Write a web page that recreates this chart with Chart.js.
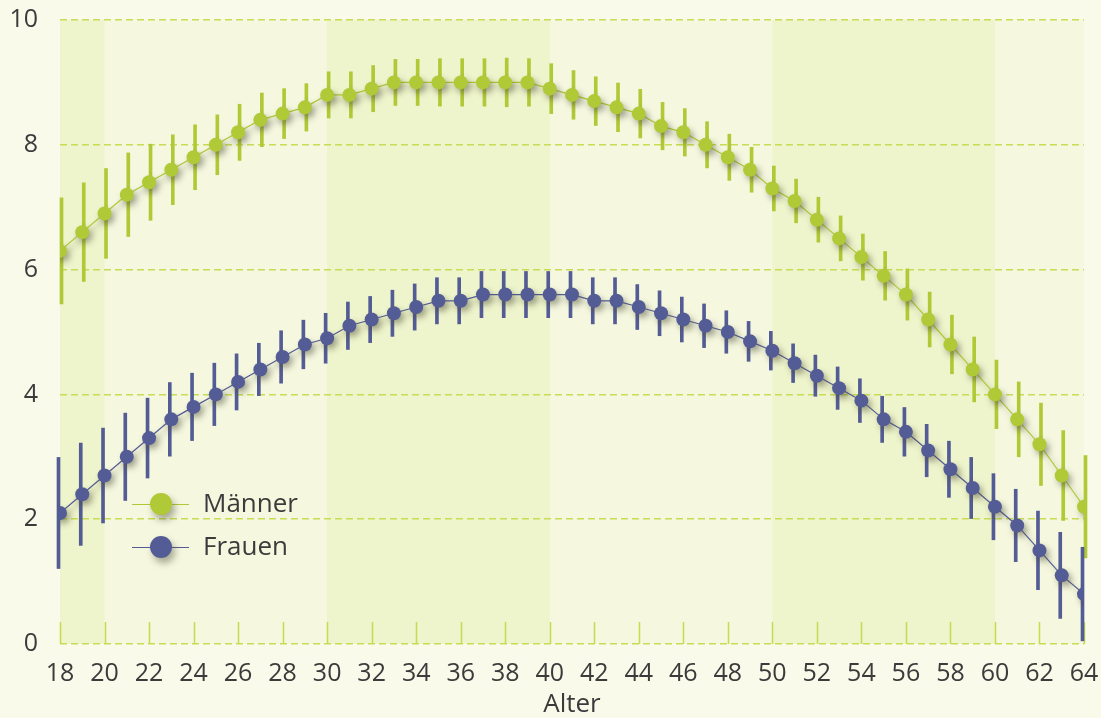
<!DOCTYPE html>
<html>
<head>
<meta charset="utf-8">
<script src="https://cdn.jsdelivr.net/npm/chart.js@4.4.1/dist/chart.umd.min.js"></script>
<style>
  body { margin: 0; background: #f9faea; }
  #wrap { width: 1101px; height: 718px; }
</style>
</head>
<body>
<div id="wrap"><canvas id="alterChart" width="1101" height="718"></canvas></div>
<script>
// Alter (Jahre)
var ages = [18, 19, 20, 21, 22, 23, 24, 25, 26, 27, 28, 29, 30, 31, 32, 33, 34, 35, 36, 37, 38, 39, 40,
            41, 42, 43, 44, 45, 46, 47, 48, 49, 50, 51, 52, 53, 54, 55, 56, 57, 58, 59, 60, 61, 62, 63, 64];

var maenner = [6.3, 6.6, 6.9, 7.2, 7.4, 7.6, 7.8, 8.0, 8.2, 8.4, 8.5, 8.6, 8.8, 8.8, 8.9, 9.0, 9.0, 9.0, 9.0, 9.0, 9.0, 9.0, 8.9,
               8.8, 8.7, 8.6, 8.5, 8.3, 8.2, 8.0, 7.8, 7.6, 7.3, 7.1, 6.8, 6.5, 6.2, 5.9, 5.6, 5.2, 4.8, 4.4, 4.0, 3.6, 3.2, 2.7, 2.2];
var maennerErr = [0.85, 0.79, 0.72, 0.67, 0.61, 0.56, 0.52, 0.48, 0.45, 0.43, 0.40, 0.38, 0.37, 0.37, 0.37, 0.37, 0.37, 0.38, 0.38, 0.38, 0.39, 0.38, 0.40,
                  0.39, 0.39, 0.39, 0.39, 0.38, 0.38, 0.37, 0.37, 0.36, 0.36, 0.35, 0.36, 0.36, 0.37, 0.39, 0.41, 0.44, 0.47, 0.52, 0.55, 0.60, 0.66, 0.72, 0.82];

var frauen = [2.1, 2.4, 2.7, 3.0, 3.3, 3.6, 3.8, 4.0, 4.2, 4.4, 4.6, 4.8, 4.9, 5.1, 5.2, 5.3, 5.4, 5.5, 5.5, 5.6, 5.6, 5.6, 5.6,
              5.6, 5.5, 5.5, 5.4, 5.3, 5.2, 5.1, 5.0, 4.85, 4.7, 4.5, 4.3, 4.1, 3.9, 3.6, 3.4, 3.1, 2.8, 2.5, 2.2, 1.9, 1.5, 1.1, 0.8];
var frauenErr = [0.89, 0.82, 0.76, 0.70, 0.64, 0.59, 0.54, 0.50, 0.45, 0.42, 0.42, 0.39, 0.40, 0.38, 0.37, 0.37, 0.37, 0.37, 0.37, 0.37, 0.37, 0.37, 0.37,
                 0.37, 0.37, 0.37, 0.36, 0.36, 0.36, 0.35, 0.34, 0.32, 0.31, 0.31, 0.33, 0.34, 0.35, 0.37, 0.39, 0.42, 0.45, 0.49, 0.53, 0.58, 0.63, 0.69, 0.75];

// hinterlegte Altersbereiche
var bands = [[18, 20], [30, 40], [50, 60]];

var GREEN = '#b0c936';
var BLUE = '#545c95';
var TEXT = '#3b3b3b';
var FONT = "'Open Sans', sans-serif";

function points(vals) {
    return ages.map(function (a, i) { return {x: a, y: vals[i]}; });
}
function ranges(vals, errs) {
    return ages.map(function (a, i) { return {x: a, y: [vals[i] - errs[i], vals[i] + errs[i]]}; });
}

// background of plot area + shaded bands
var bgPlugin = {
    id: 'bgBands',
    beforeDraw: function (chart) {
        var ctx = chart.ctx, area = chart.chartArea, x = chart.scales.x;
        ctx.save();
        ctx.fillStyle = '#f9faea';
        ctx.fillRect(0, 0, chart.width, chart.height);
        ctx.fillStyle = '#f5f8df';
        ctx.fillRect(area.left, area.top, area.right - area.left, area.bottom - area.top);
        ctx.fillStyle = '#eef4cb';
        bands.forEach(function (b) {
            var x0 = x.getPixelForValue(b[0]), x1 = x.getPixelForValue(b[1]);
            ctx.fillRect(x0, area.top, x1 - x0, area.bottom - area.top);
        });
        ctx.restore();
    },
    beforeDatasetsDraw: function (chart) {
        // short tick marks pointing up into the plot
        var ctx = chart.ctx, area = chart.chartArea, x = chart.scales.x;
        ctx.save();
        ctx.strokeStyle = '#c6dc4e';
        ctx.lineWidth = 1.5;
        x.ticks.forEach(function (t) {
            var px = Math.round(x.getPixelForValue(t.value)) + 0.5;
            ctx.beginPath();
            ctx.moveTo(px, area.bottom);
            ctx.lineTo(px, area.bottom - 22);
            ctx.stroke();
        });
        ctx.restore();
    }
};

// drop shadow under lines and points
var shadowPlugin = {
    id: 'shadow',
    beforeDatasetDraw: function (chart, args) {
        var ds = chart.data.datasets[args.index];
        if (ds.type !== 'line') return;
        var ctx = chart.ctx;
        ctx.save();
        ctx.shadowColor = 'rgba(70, 70, 50, 0.45)';
        ctx.shadowBlur = 6;
        ctx.shadowOffsetX = 3;
        ctx.shadowOffsetY = 4;
    },
    afterDatasetDraw: function (chart, args) {
        var ds = chart.data.datasets[args.index];
        if (ds.type !== 'line') return;
        chart.ctx.restore();
    }
};

// legend inside the plot
var legendPlugin = {
    id: 'innerLegend',
    afterDraw: function (chart) {
        var ctx = chart.ctx;
        var items = chart.data.datasets.filter(function (d) { return d.type === 'line'; });
        ctx.save();
        items.forEach(function (d, i) {
            var y = 504 + i * 43;
            ctx.strokeStyle = d.borderColor;
            ctx.lineWidth = 1;
            ctx.beginPath();
            ctx.moveTo(132, y + 0.5);
            ctx.lineTo(189, y + 0.5);
            ctx.stroke();
            ctx.save();
            ctx.shadowColor = 'rgba(70, 70, 50, 0.45)';
            ctx.shadowBlur = 7;
            ctx.shadowOffsetX = 3;
            ctx.shadowOffsetY = 5;
            ctx.fillStyle = d.backgroundColor;
            ctx.beginPath();
            ctx.arc(161, y, 11, 0, Math.PI * 2);
            ctx.fill();
            ctx.restore();
            ctx.fillStyle = TEXT;
            ctx.font = '26px ' + FONT;
            ctx.textBaseline = 'middle';
            ctx.fillText(d.label, 203, y + 1);
        });
        ctx.restore();
    }
};

var ctx = document.getElementById('alterChart').getContext('2d');
var chart = new Chart(ctx, {
    type: 'line',
    data: {
        datasets: [{
            type: 'bar',
            label: 'Männer Streuung',
            data: ranges(maenner, maennerErr),
            backgroundColor: GREEN,
            barThickness: 3,
            clip: {left: 5, right: 5, top: 5, bottom: 0},
            order: 4
        }, {
            type: 'line',
            label: 'Männer',
            data: points(maenner),
            borderColor: GREEN,
            backgroundColor: GREEN,
            borderWidth: 1.2,
            pointRadius: 7,
            pointBorderWidth: 0,
            pointBackgroundColor: GREEN,
            tension: 0,
            order: 3
        }, {
            type: 'bar',
            label: 'Frauen Streuung',
            data: ranges(frauen, frauenErr),
            backgroundColor: BLUE,
            barThickness: 3,
            clip: {left: 5, right: 5, top: 5, bottom: 0},
            order: 2
        }, {
            type: 'line',
            label: 'Frauen',
            data: points(frauen),
            borderColor: BLUE,
            backgroundColor: BLUE,
            borderWidth: 1.2,
            pointRadius: 7,
            pointBorderWidth: 0,
            pointBackgroundColor: BLUE,
            tension: 0,
            order: 1
        }]
    },
    options: {
        responsive: false,
        animation: false,
        layout: { padding: { top: 20, right: 17, bottom: 0, left: 0 } },
        plugins: {
            legend: { display: false },
            tooltip: { enabled: false }
        },
        scales: {
            x: {
                type: 'linear',
                min: 18,
                max: 64,
                offset: false,
                grid: { display: false },
                border: { display: false },
                ticks: {
                    stepSize: 2,
                    color: TEXT,
                    padding: 7,
                    maxRotation: 0,
                    autoSkip: false,
                    font: { family: FONT, size: 25 }
                },
                title: {
                    display: true,
                    text: 'Alter',
                    color: TEXT,
                    padding: 0,
                    font: { family: FONT, size: 26, lineHeight: 1 }
                },
                afterFit: function (scale) {
                    scale.height = 74;
                    scale.paddingLeft = 10;
                    scale.paddingRight = 10;
                }
            },
            y: {
                min: 0,
                max: 10,
                grid: {
                    color: '#c8dc55',
                    lineWidth: 1.5,
                    drawTicks: false
                },
                border: { display: false, dash: [7, 4] },
                ticks: {
                    stepSize: 2,
                    color: TEXT,
                    padding: 22,
                    font: { family: FONT, size: 25 }
                },
                afterFit: function (scale) {
                    scale.width = 60;
                    scale.paddingTop = 10;
                    scale.paddingBottom = 10;
                }
            }
        }
    },
    plugins: [bgPlugin, shadowPlugin, legendPlugin]
});
</script>
</body>
</html>
